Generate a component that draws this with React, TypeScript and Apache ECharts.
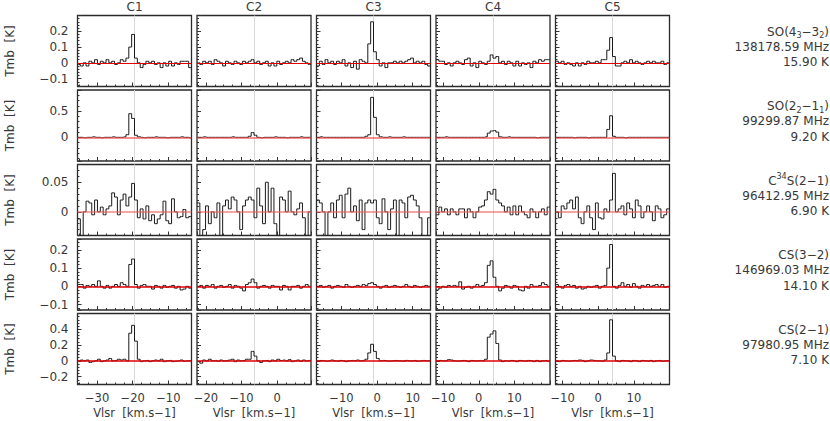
import React, { useEffect, useRef } from "react";
import * as echarts from "echarts";

// ---- axes / layout data ----
const columns = ["C1", "C2", "C3", "C4", "C5"];
const velMin = [-35.5, -22.5, -17, -12, -12];
const velMax = [-3.5, 9.5, 15, 20, 20];
const velCenter = [-19.5, -6.5, -1, 4, 4];
const xTickLabels = [[-30, -20, -10], [-20, -10, 0], [-10, 0, 10], [-10, 0, 10], [-10, 0, 10]];

const lineRich = [
  "{m|SO(4}{sub|3}{m|−3}{sub|2}{m|)}",
  "{m|SO(2}{sub|2}{m|−1}{sub|1}{m|)}",
  "{m|C}{sup|34}{m|S(2−1)}",
  "{m|CS(3−2)}",
  "{m|CS(2−1)}",
];
const lineFreqs = ["138178.59 MHz", "99299.87 MHz", "96412.95 MHz", "146969.03 MHz", "97980.95 MHz"];
const lineEup = ["15.90 K", "9.20 K", "6.90 K", "14.10 K", "7.10 K"];
const tmbMin = [-0.15, -0.45, -0.04, -0.13, -0.3];
const tmbMax = [0.3, 0.9, 0.08, 0.26, 0.6];
const ySplit = [5, 3, 2, 4, 4];
const yTickLabels = [[0.2, 0.1, 0, -0.1], [0.5, 0], [0.05, 0], [0.2, 0.1, 0, -0.1], [0.4, 0.2, 0, -0.2]];

// ---- spectra (Tmb per channel, 40 channels across each panel) ----
const so43C1 = [-0.01,-0.02,0.0,-0.02,0.01,0.0,0.02,-0.01,0.01,0.0,0.02,0.0,0.01,-0.01,0.0,0.02,0.01,0.03,0.1,0.18,0.03,0.0,-0.03,-0.01,0.01,0.0,0.01,-0.01,0.0,-0.03,0.0,-0.02,0.01,-0.02,0.0,-0.01,0.01,0.01,0.01,-0.03];
const so43C2 = [0.0,-0.01,0.01,0.0,0.01,-0.01,0.02,0.01,0.0,-0.02,0.01,0.0,-0.01,0.01,0.0,-0.01,0.01,0.0,0.01,0.02,0.0,0.01,-0.01,0.0,0.01,-0.02,0.0,-0.02,0.01,-0.01,0.0,0.01,0.0,0.02,0.01,0.02,0.03,0.01,0.0,-0.01];
const so43C3 = [-0.02,0.01,-0.01,0.02,0.0,0.01,-0.01,0.01,0.0,0.02,-0.02,0.0,-0.03,0.01,-0.04,0.02,0.01,0.0,0.12,0.26,0.07,0.02,-0.02,0.0,-0.03,0.0,0.0,0.01,0.0,0.01,0.0,0.01,0.02,0.03,0.0,0.01,0.0,0.01,-0.01,-0.02];
const so43C4 = [0.02,0.01,0.01,-0.01,0.0,-0.02,0.0,0.01,0.0,-0.01,0.02,0.03,-0.02,0.0,-0.03,0.01,0.0,-0.01,0.01,0.05,0.03,0.04,0.0,0.01,-0.01,0.01,0.0,-0.02,0.01,-0.02,0.0,-0.01,0.0,-0.03,0.01,0.0,0.02,0.01,0.02,0.02];
const so43C5 = [0.01,0.0,0.01,-0.01,0.0,-0.01,-0.02,0.0,-0.02,0.0,-0.01,0.01,0.0,0.0,0.01,0.0,0.02,0.02,0.08,0.16,0.04,-0.02,-0.02,0.0,0.01,0.0,0.02,0.0,0.01,0.0,-0.01,0.0,0.01,0.0,0.01,0.0,0.0,0.01,-0.01,0.0];

const so22C1 = [0.0,0.0,-0.01,0.0,0.0,0.01,0.0,0.0,-0.01,0.0,0.0,0.0,0.01,0.0,0.0,0.0,0.01,0.05,0.45,0.36,0.04,0.01,0.0,-0.01,0.0,0.0,0.0,0.01,0.0,0.0,0.0,-0.01,0.0,0.0,0.0,0.0,0.01,0.0,0.0,-0.01];
const so22C2 = [0.0,0.0,0.01,0.0,0.0,0.0,0.0,0.0,0.0,0.0,0.0,0.0,0.01,0.0,0.0,0.0,0.0,0.0,0.02,0.09,0.04,0.0,-0.01,0.0,0.0,0.0,0.0,0.01,0.0,0.0,0.0,-0.01,0.0,0.0,0.0,0.0,0.01,0.0,0.0,0.0];
const so22C3 = [0.0,0.01,0.0,0.0,0.0,0.0,0.0,0.0,0.0,0.0,0.0,0.0,0.0,0.0,0.0,0.0,0.0,0.02,0.05,0.76,0.38,0.05,0.01,0.0,0.0,0.01,0.0,0.0,0.0,0.0,0.01,0.0,0.0,0.0,0.0,0.0,0.0,0.0,0.0,0.0];
const so22C4 = [0.0,0.0,0.0,0.01,0.0,0.0,0.0,0.0,0.0,0.0,0.0,0.0,0.0,0.0,0.0,0.0,0.0,0.01,0.08,0.12,0.13,0.1,0.01,0.0,0.0,0.01,0.0,0.0,0.0,0.0,0.0,0.0,0.0,0.0,0.0,-0.01,0.0,0.0,0.0,0.0];
const so22C5 = [0.0,0.0,0.0,0.0,0.0,0.0,-0.01,0.0,0.0,0.0,0.0,-0.01,0.0,0.0,0.0,0.0,0.0,0.0,0.15,0.41,0.02,0.0,0.0,0.0,-0.01,0.0,0.0,0.0,0.0,0.0,0.0,0.0,0.0,0.0,0.0,0.0,0.0,0.0,0.0,0.0];

const c34sC1 = [-0.012,-0.045,0.0,0.018,0.015,-0.005,0.02,0.0,0.008,-0.005,0.005,0.01,0.032,0.025,-0.005,0.02,0.03,0.01,0.025,0.048,0.02,-0.01,0.005,-0.012,0.01,-0.015,-0.005,-0.02,-0.012,-0.005,0.018,-0.015,-0.02,0.022,0.0,-0.01,-0.008,0.004,-0.01,-0.008];
const c34sC2 = [0.015,-0.045,-0.03,0.01,-0.02,0.0,-0.01,0.015,-0.045,0.01,0.02,0.005,0.025,0.02,0.0,-0.03,0.01,0.02,0.025,0.02,-0.01,0.04,0.01,-0.02,0.05,0.0,0.04,-0.02,-0.045,0.025,0.02,0.0,0.035,0.0,-0.005,0.005,0.015,-0.01,-0.045,0.0];
const c34sC3 = [0.02,0.015,0.0,-0.045,0.0,0.015,-0.01,0.02,0.028,-0.01,0.03,0.04,0.0,0.01,-0.015,0.02,-0.03,0.015,0.02,0.015,0.02,-0.01,-0.02,0.022,0.0,-0.03,0.005,0.02,-0.045,0.02,0.015,-0.01,0.025,0.028,0.02,0.01,-0.01,-0.045,-0.045,-0.01];
const c34sC4 = [-0.005,0.008,0.0,0.005,-0.005,0.005,0.0,-0.005,0.005,0.005,-0.01,0.005,0.0,-0.01,0.0,0.008,0.01,0.02,0.034,0.03,0.038,0.02,0.015,0.01,0.0,0.008,-0.005,0.01,-0.005,0.01,0.0,-0.005,-0.01,0.005,0.0,-0.01,0.0,0.005,-0.005,0.008];
const c34sC5 = [0.0,-0.01,0.01,0.005,0.015,0.02,0.005,0.025,-0.01,-0.02,0.0,0.01,-0.01,-0.03,0.015,-0.01,-0.012,0.005,0.0,0.02,0.065,0.0,0.005,0.01,-0.005,0.015,0.005,-0.01,0.02,0.01,-0.01,0.0,0.01,0.0,-0.015,0.01,0.005,-0.01,-0.005,0.005];

const cs32C1 = [0.01,0.01,-0.01,0.005,0.0,0.01,0.0,0.03,0.0,-0.01,0.005,-0.01,0.0,0.01,0.0,0.02,0.01,0.0,0.12,0.15,0.01,-0.01,0.005,0.01,0.0,0.0,-0.015,0.005,0.0,-0.01,0.005,-0.005,0.0,0.005,-0.01,0.0,-0.02,-0.015,0.0,-0.01];
const cs32C2 = [0.0,0.005,-0.01,0.005,0.0,0.01,-0.01,0.0,0.005,-0.005,0.0,0.01,-0.01,0.005,0.0,-0.01,-0.025,0.01,0.02,0.04,0.02,-0.01,0.0,0.005,0.0,-0.01,0.005,0.0,0.0,-0.02,0.005,0.0,-0.02,0.0,0.0,0.005,-0.01,0.0,0.01,0.0];
const cs32C3 = [0.0,0.005,-0.005,0.0,0.005,-0.01,0.0,0.005,0.0,-0.005,0.01,0.0,-0.005,0.0,0.005,0.0,0.01,0.005,0.015,0.02,0.01,0.0,-0.01,0.0,0.005,-0.005,0.0,0.005,0.0,-0.005,0.0,0.01,0.0,-0.005,0.005,0.0,-0.005,0.0,0.005,0.0];
const cs32C4 = [-0.02,-0.01,0.0,-0.005,0.005,0.0,0.005,0.0,0.025,-0.015,-0.005,0.0,-0.01,0.0,0.01,0.0,0.005,0.02,0.115,0.14,0.05,0.0,-0.025,-0.01,0.005,0.0,-0.01,0.005,0.0,-0.02,-0.025,0.0,-0.01,0.01,0.0,0.0,0.005,0.02,0.01,0.0];
const cs32C5 = [0.01,0.0,-0.01,0.005,0.01,0.0,0.005,-0.01,0.0,-0.015,-0.01,0.0,-0.005,0.0,0.005,-0.01,0.0,0.005,0.1,0.23,0.0,-0.01,0.005,0.02,0.0,0.01,-0.005,0.015,0.0,-0.01,0.005,0.0,0.01,0.0,0.005,0.01,0.0,0.01,-0.005,0.0];

const cs21C1 = [0.0,0.01,0.0,0.01,-0.02,-0.01,0.0,0.02,-0.01,0.0,0.01,0.03,0.0,0.005,0.02,0.01,0.02,0.0,0.35,0.45,0.25,0.02,-0.01,0.0,0.005,-0.01,0.0,0.01,0.0,0.02,-0.01,0.0,0.005,-0.01,-0.005,0.0,0.01,-0.005,0.0,0.0];
const cs21C2 = [-0.01,-0.03,0.01,0.0,0.02,0.0,0.005,-0.005,0.01,0.0,0.0,0.01,0.02,-0.01,0.01,0.0,0.005,0.02,0.02,0.12,0.06,0.0,-0.02,0.0,0.005,-0.01,0.01,0.0,0.02,0.005,0.01,0.0,0.015,-0.01,0.0,0.01,-0.005,0.01,0.0,0.005];
const cs21C3 = [0.0,0.005,0.0,-0.005,0.0,0.01,0.0,-0.005,0.005,0.0,-0.01,0.0,0.005,0.0,0.01,0.0,0.005,0.02,0.1,0.21,0.12,0.03,0.0,0.005,0.0,-0.005,0.0,0.005,0.0,0.0,-0.005,0.005,0.0,0.0,0.005,-0.005,0.0,0.005,0.0,0.0];
const cs21C4 = [0.0,0.005,0.0,0.0,0.015,0.01,0.0,-0.005,0.0,0.005,0.0,-0.01,0.005,0.0,0.0,0.005,0.0,0.02,0.3,0.34,0.38,0.22,0.01,-0.01,0.0,-0.005,0.005,0.0,-0.01,0.005,0.0,-0.005,0.005,0.0,-0.01,0.005,-0.01,0.0,0.005,-0.005];
const cs21C5 = [0.0,-0.01,0.005,0.0,-0.005,0.0,0.005,0.0,0.01,0.005,-0.01,0.0,0.01,0.005,0.0,0.0,-0.005,0.01,0.1,0.52,0.06,0.0,-0.01,0.005,0.0,0.0,-0.01,0.005,0.0,-0.01,0.005,0.0,-0.005,0.005,-0.01,0.0,0.005,-0.005,0.0,0.0];

const spectraRows = [
  [so43C1, so43C2, so43C3, so43C4, so43C5],
  [so22C1, so22C2, so22C3, so22C4, so22C5],
  [c34sC1, c34sC2, c34sC3, c34sC4, c34sC5],
  [cs32C1, cs32C2, cs32C3, cs32C4, cs32C5],
  [cs21C1, cs21C2, cs21C3, cs21C4, cs21C5],
];

// ---- styling / layout ----
const FONT = "DejaVu Sans";
const TXT = "#383838";
const panelLeft = [77.5, 197, 316.5, 436, 555.5];
const panelTop = [15.5, 90, 164.5, 239, 313.5];
const PW = 114;
const PH = 71;
const baseStyle = [
  { color: "#e00000", width: 1.2 },
  { color: "rgba(240,70,70,0.6)", width: 2.2 },
  { color: "rgba(240,90,90,0.55)", width: 2.2 },
  { color: "#e00000", width: 1.6 },
  { color: "#e00000", width: 1.6 },
];

function fmt(v: number): string {
  const s = String(Math.abs(v));
  return v < 0 ? "−" + s : s;
}

function labelFormatter(list: number[], tol: number) {
  return (val: number) => {
    for (const l of list) {
      if (Math.abs(val - l) < tol) return fmt(l);
    }
    return "";
  };
}

function buildOption() {
  const grid: any[] = [];
  const xAxis: any[] = [];
  const yAxis: any[] = [];
  const series: any[] = [];
  const graphic: any[] = [];

  for (let r = 0; r < 5; r++) {
    for (let c = 0; c < 5; c++) {
      const idx = r * 5 + c;
      grid.push({
        left: panelLeft[c],
        top: panelTop[r],
        width: PW,
        height: PH,
        show: true,
        borderColor: "#2a2a2a",
        borderWidth: 1.3,
        backgroundColor: "transparent",
        containLabel: false,
      });
      xAxis.push({
        type: "value",
        gridIndex: idx,
        position: "bottom",
        min: velMin[c],
        max: velMax[c],
        splitNumber: 3,
        axisLine: { show: false, onZero: false },
        axisTick: { show: true, inside: true, length: 4, lineStyle: { color: "#333", width: 1 } },
        minorTick: { show: true, splitNumber: 4, length: 2, lineStyle: { color: "#333", width: 1 } },
        splitLine: { show: false },
        minorSplitLine: { show: false },
        axisLabel: {
          show: r === 4,
          margin: 7,
          fontSize: 11.5,
          fontFamily: FONT,
          color: TXT,
          showMinLabel: true,
          showMaxLabel: true,
          formatter: labelFormatter(xTickLabels[c], 0.01),
        },
      });
      yAxis.push({
        type: "value",
        gridIndex: idx,
        position: "left",
        min: tmbMin[r],
        max: tmbMax[r],
        splitNumber: ySplit[r],
        axisLine: { show: false, onZero: false },
        axisTick: { show: true, inside: true, length: 4, lineStyle: { color: "#333", width: 1 } },
        minorTick: { show: true, splitNumber: 5, length: 2, lineStyle: { color: "#333", width: 1 } },
        splitLine: { show: false },
        minorSplitLine: { show: false },
        axisLabel: {
          show: c === 0,
          margin: 9,
          fontSize: 12,
          fontFamily: FONT,
          color: TXT,
          formatter: labelFormatter(yTickLabels[r], 1e-6),
        },
      });

      const vals = spectraRows[r][c];
      const n = vals.length;
      const dv = (velMax[c] - velMin[c]) / n;
      const pts: number[][] = vals.map((y, i) => [velMin[c] + (i + 0.5) * dv, y]);
      pts.unshift([velMin[c], vals[0]]);
      pts.push([velMax[c], vals[n - 1]]);

      // center velocity (gray)
      series.push({
        type: "line",
        xAxisIndex: idx,
        yAxisIndex: idx,
        data: [],
        z: 1,
        silent: true,
        markLine: {
          silent: true,
          z: 1,
          symbol: ["none", "none"],
          label: { show: false },
          lineStyle: { color: "#d9d9d9", width: 1, type: "solid" },
          data: [{ xAxis: velCenter[c] }],
        },
      });
      // spectrum
      series.push({
        type: "line",
        xAxisIndex: idx,
        yAxisIndex: idx,
        data: pts,
        step: "middle",
        showSymbol: false,
        symbol: "none",
        clip: true,
        z: 3,
        silent: true,
        lineStyle: { color: "#1a1a1a", width: 1 },
        markLine: {
          silent: true,
          z: 4,
          symbol: ["none", "none"],
          label: { show: false },
          lineStyle: { color: baseStyle[r].color, width: baseStyle[r].width, type: "solid" },
          data: [{ yAxis: 0 }],
        },
      });
    }
  }

  const baseText = { fontFamily: FONT, fontSize: 12, fill: TXT };

  // column titles and x-axis names
  for (let c = 0; c < 5; c++) {
    graphic.push({
      type: "text",
      x: panelLeft[c] + PW / 2,
      y: 6.5,
      style: { ...baseText, text: columns[c], align: "center", verticalAlign: "middle" },
    });
    graphic.push({
      type: "text",
      x: panelLeft[c] + PW / 2,
      y: 412.5,
      style: { ...baseText, fontSize: 11.5, text: "Vlsr  [km.s−1]", align: "center", verticalAlign: "middle" },
    });
  }

  // y-axis names and line labels
  for (let r = 0; r < 5; r++) {
    graphic.push({
      type: "text",
      x: 9.5,
      y: panelTop[r] + PH / 2,
      rotation: Math.PI / 2,
      style: { ...baseText, text: "Tmb  [K]", align: "center", verticalAlign: "middle" },
    });
    graphic.push({
      type: "text",
      x: 829,
      y: panelTop[r] + 16,
      style: {
        text: lineRich[r],
        align: "right",
        verticalAlign: "middle",
        fontFamily: FONT,
        fill: TXT,
        rich: {
          m: { fontSize: 12, fontFamily: FONT, fill: TXT, lineHeight: 16, verticalAlign: "middle" },
          sub: { fontSize: 8, fontFamily: FONT, fill: TXT, lineHeight: 9, verticalAlign: "bottom" },
          sup: { fontSize: 8, fontFamily: FONT, fill: TXT, lineHeight: 9, verticalAlign: "top" },
        },
      },
    });
    graphic.push({
      type: "text",
      x: 829,
      y: panelTop[r] + 31,
      style: { ...baseText, text: lineFreqs[r], align: "right", verticalAlign: "middle" },
    });
    graphic.push({
      type: "text",
      x: 829,
      y: panelTop[r] + 46.5,
      style: { ...baseText, text: lineEup[r], align: "right", verticalAlign: "middle" },
    });
  }

  return {
    animation: false,
    backgroundColor: "#ffffff",
    textStyle: { fontFamily: FONT },
    grid,
    xAxis,
    yAxis,
    series,
    graphic,
  };
}

export default function App() {
  const ref = useRef<HTMLDivElement>(null);
  useEffect(() => {
    if (!ref.current) return;
    const chart = echarts.init(ref.current, undefined, { renderer: "svg" });
    chart.setOption(buildOption() as any);
    return () => chart.dispose();
  }, []);
  return (
    <div
      ref={ref}
      style={{ position: "absolute", left: 0, top: 0, width: 830, height: 421, background: "#fff" }}
    />
  );
}
